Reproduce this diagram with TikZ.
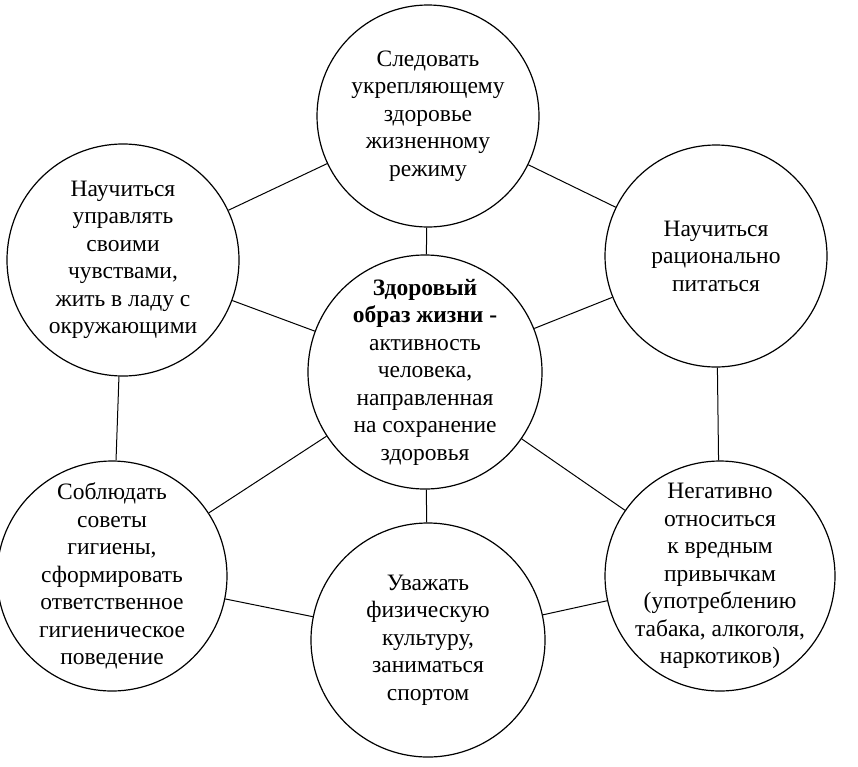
\documentclass[tikz,border=0pt]{standalone}
\usepackage{fontspec}
\setmainfont{Liberation Serif}
\begin{document}
\begin{tikzpicture}[x=1pt,y=-1pt,
  ball/.style={circle,draw,line width=1.2pt,inner sep=0pt},
  words/.style={align=center,font=\fontsize{23.5}{27.5}\selectfont},
  link/.style={line width=1pt}]

% Fix the picture size
\useasboundingbox (0,0) rectangle (858,766);

% Define the circles
\node[ball,minimum size=234] (C) at (425,372)
  [label={[words]center:\textbf{Здоровый}\\\textbf{образ жизни -}\\активность\\человека,\\направленная\\на сохранение\\здоровья}] {};
\node[ball,minimum size=222] (T) at (428,116)
  [label={[words]center:Следовать\\укрепляющему\\здоровье\\жизненному\\режиму}] {};
\node[ball,minimum size=232] (TL) at (123,260)
  [label={[words]center:Научиться\\управлять\\своими\\чувствами,\\жить в ладу с\\окружающими}] {};
\node[ball,minimum size=222] (TR) at (716,256)
  [label={[words]center:Научиться\\рационально\\питаться}] {};
\node[ball,minimum size=230] (BL) at (112,576)
  [label={[words]center:Соблюдать\\советы\\гигиены,\\сформировать\\ответственное\\гигиеническое\\поведение}] {};
\node[ball,minimum size=230] (BR) at (720,576)
  [label={[words]center:Негативно\\относиться\\к вредным\\привычкам\\(употреблению\\табака, алкоголя,\\наркотиков)}] {};
\node[ball,minimum size=234] (B) at (428,640)
  [label={[words]center:Уважать\\физическую\\культуру,\\заниматься\\спортом}] {};

% Draw the outer ring
\draw[link] (T) -- (TR) -- (BR) -- (B) -- (BL) -- (TL) -- (T);

% Draw the spokes
\foreach \n in {T,TL,TR,BL,BR,B}
  \draw[link] (C) -- (\n);

\end{tikzpicture}
\end{document}
